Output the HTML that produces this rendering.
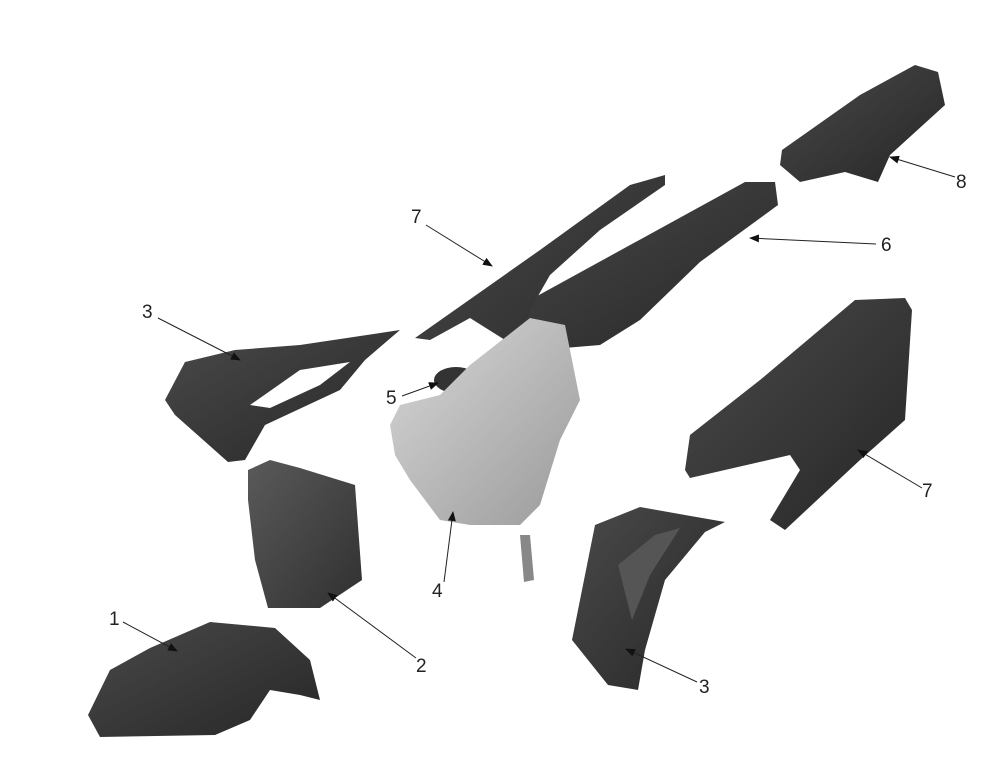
<!DOCTYPE html>
<html><head><meta charset="utf-8"><style>
html,body{margin:0;padding:0;background:#fff;}
svg{display:block}
text{font-family:"Liberation Sans",sans-serif;font-size:19px;fill:#222}
</style></head><body>
<svg width="986" height="759" viewBox="0 0 986 759" xmlns="http://www.w3.org/2000/svg">
<defs>
<linearGradient id="dk" x1="0" y1="0" x2="1" y2="1"><stop offset="0" stop-color="#4a4a4a"/><stop offset="1" stop-color="#262626"/></linearGradient>
<linearGradient id="md" x1="0" y1="0" x2="1" y2="1"><stop offset="0" stop-color="#5a5a5a"/><stop offset="1" stop-color="#303030"/></linearGradient>
<linearGradient id="lt" x1="0" y1="0" x2="1" y2="1"><stop offset="0" stop-color="#d8d8d8"/><stop offset="1" stop-color="#9a9a9a"/></linearGradient>
<marker id="ar" markerWidth="10" markerHeight="8" refX="9" refY="4" orient="auto" markerUnits="userSpaceOnUse"><path d="M0,0 L10,4 L0,8 Z" fill="#111"/></marker>
</defs>
<!-- 8 -->
<polygon points="782,150 860,95 915,65 938,72 945,105 890,155 878,182 845,172 800,182 780,165" fill="url(#dk)"/>
<!-- 6 -->
<polygon points="497,318 745,182 775,182 778,205 700,262 640,320 600,345 540,350 505,335" fill="url(#dk)"/>
<!-- 7 upper -->
<polygon points="415,338 540,250 630,185 665,175 665,185 600,230 550,275 530,310 520,360 512,388 498,388 505,340 470,318 430,340" fill="url(#dk)"/>
<!-- 3 upper left -->
<polygon points="165,400 185,362 235,350 300,345 400,330 365,360 340,390 265,425 245,460 228,462 175,415" fill="url(#dk)"/>
<polygon points="250,405 300,370 350,362 320,385 270,408" fill="#fff"/>
<!-- 5 -->
<ellipse cx="456" cy="380" rx="22" ry="13" fill="#333"/>
<!-- 4 tank -->
<polygon points="390,425 400,405 440,395 470,365 530,318 565,325 580,400 560,440 540,505 520,525 470,525 440,520 425,500 410,480 395,455" fill="url(#lt)"/>
<polygon points="520,535 530,535 534,580 524,582" fill="#888"/>
<!-- 7 right -->
<polygon points="690,435 760,380 855,300 905,298 912,310 905,420 860,460 785,530 770,520 800,470 790,455 690,478 685,470" fill="url(#dk)"/>
<!-- 2 -->
<polygon points="248,470 270,460 300,468 355,485 362,580 320,608 268,608 255,560 248,500" fill="url(#md)"/>
<!-- 1 -->
<polygon points="88,715 110,670 150,648 210,622 275,628 310,660 320,700 300,695 270,690 250,720 215,735 100,737" fill="url(#dk)"/>
<!-- 3 bottom -->
<polygon points="595,525 640,507 685,515 725,522 705,532 665,580 645,650 638,690 608,685 572,640 585,575" fill="url(#dk)"/>
<polygon points="618,565 655,535 680,528 650,575 632,620" fill="#555"/>
<!-- leaders -->
<g stroke="#222" stroke-width="1" fill="none" marker-end="url(#ar)">
<line x1="426" y1="225" x2="492" y2="266"/>
<line x1="876" y1="244" x2="750" y2="238"/>
<line x1="955" y1="177" x2="890" y2="157"/>
<line x1="158" y1="318" x2="240" y2="360"/>
<line x1="402" y1="396" x2="438" y2="383"/>
<line x1="444" y1="582" x2="453" y2="512"/>
<line x1="922" y1="488" x2="858" y2="450"/>
<line x1="416" y1="658" x2="328" y2="593"/>
<line x1="123" y1="622" x2="177" y2="651"/>
<line x1="697" y1="682" x2="626" y2="649"/>
</g>
<text x="411" y="223">7</text>
<text x="881" y="251">6</text>
<text x="956" y="188">8</text>
<text x="142" y="318">3</text>
<text x="386" y="404">5</text>
<text x="432" y="597">4</text>
<text x="922" y="497">7</text>
<text x="416" y="672">2</text>
<text x="109" y="625">1</text>
<text x="699" y="693">3</text>
</svg>
</body></html>
